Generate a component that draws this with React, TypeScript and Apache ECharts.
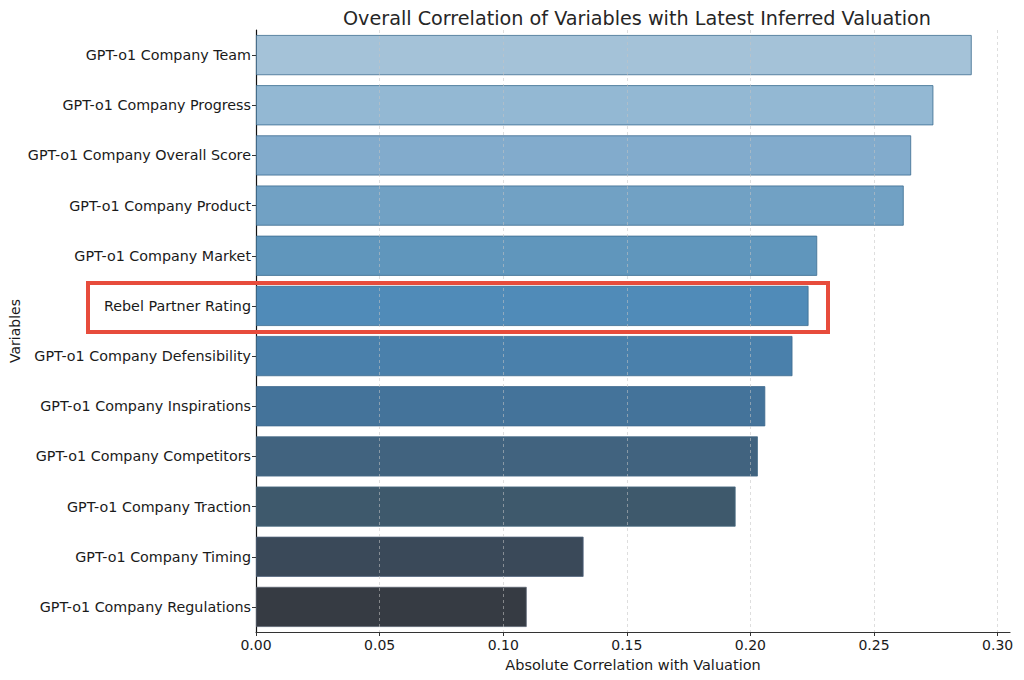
import React, { useEffect, useRef } from "react";
import * as echarts from "echarts";

const categories = [
  "GPT-o1 Company Team",
  "GPT-o1 Company Progress",
  "GPT-o1 Company Overall Score",
  "GPT-o1 Company Product",
  "GPT-o1 Company Market",
  "Rebel Partner Rating",
  "GPT-o1 Company Defensibility",
  "GPT-o1 Company Inspirations",
  "GPT-o1 Company Competitors",
  "GPT-o1 Company Traction",
  "GPT-o1 Company Timing",
  "GPT-o1 Company Regulations",
];

const values = [0.2895, 0.274, 0.265, 0.262, 0.227, 0.2235, 0.217, 0.206, 0.203, 0.194, 0.1325, 0.1095];

const barColors = [
  "#a4c2d8",
  "#93b8d3",
  "#82abcc",
  "#71a1c4",
  "#6096bc",
  "#508bb8",
  "#4a80ab",
  "#44739a",
  "#41637f",
  "#3e596c",
  "#3a4959",
  "#363b43",
];

const xTicks = [0, 0.05, 0.1, 0.15, 0.2, 0.25, 0.3];
const xMax = 0.305;

const FONT = "DejaVu Sans";

export default function App() {
  const ref = useRef<HTMLDivElement>(null);

  useEffect(() => {
    document.body.style.margin = "0";
    const chart = echarts.init(ref.current!, null, { renderer: "svg" });
    chart.setOption({
      animation: false,
      backgroundColor: "#ffffff",
      title: {
        text: "Overall Correlation of Variables with Latest Inferred Valuation",
        left: 632,
        top: 4,
        textAlign: "center",
        textStyle: { fontFamily: FONT, fontSize: 19.2, fontWeight: "normal", color: "#262626" },
      },
      grid: { left: 256, right: 14, top: 30, bottom: 48, containLabel: false, outerBoundsMode: "none" },
      xAxis: {
        type: "value",
        min: 0,
        max: xMax,
        interval: 0.05,
        name: "Absolute Correlation with Valuation",
        nameLocation: "middle",
        nameGap: 25,
        nameMoveOverlap: false,
        nameTextStyle: { fontFamily: FONT, fontSize: 14.5, color: "#1a1a1a" },
        axisLine: { show: true, lineStyle: { color: "#333333", width: 1.2 } },
        axisTick: { show: true, length: 4, customValues: xTicks, lineStyle: { color: "#333333" } },
        axisLabel: {
          customValues: xTicks,
          fontFamily: FONT,
          fontSize: 14,
          color: "#1a1a1a",
          margin: 6,
          formatter: (v: number) => v.toFixed(2),
        },
        splitLine: { show: false },
      },
      yAxis: {
        type: "category",
        data: categories,
        inverse: true,
        name: "Variables",
        nameLocation: "middle",
        nameGap: 234,
        nameRotate: 90,
        nameMoveOverlap: false,
        nameTextStyle: { fontFamily: FONT, fontSize: 14, color: "#1a1a1a" },
        axisLine: { show: true, lineStyle: { color: "#111111", width: 1.2 } },
        axisTick: { show: true, alignWithLabel: true, length: 4, lineStyle: { color: "#333333" } },
        axisLabel: { fontFamily: FONT, fontSize: 14.3, color: "#1a1a1a", margin: 5 },
      },
      series: [
        {
          type: "bar",
          data: values.map((v, i) => ({
            value: v,
            itemStyle: { color: barColors[i], borderColor: echarts.color.modifyHSL(barColors[i], undefined, undefined, 0.4), borderWidth: 0.8 },
          })),
          barCategoryGap: "20%",
          markLine: {
            silent: true,
            symbol: "none",
            label: { show: false },
            lineStyle: { type: [3, 3], color: "rgba(195,195,195,0.7)", width: 0.8 },
            data: xTicks.filter((t) => t > 0).map((t) => ({ xAxis: t })),
          },
        },
      ],
      graphic: [
        {
          type: "rect",
          shape: { x: 88, y: 283, width: 740, height: 49 },
          style: { fill: "none", stroke: "#e74c3c", lineWidth: 4 },
          z: 100,
        },
      ],
    });
    return () => chart.dispose();
  }, []);

  return <div ref={ref} style={{ width: 1024, height: 680 }} />;
}
